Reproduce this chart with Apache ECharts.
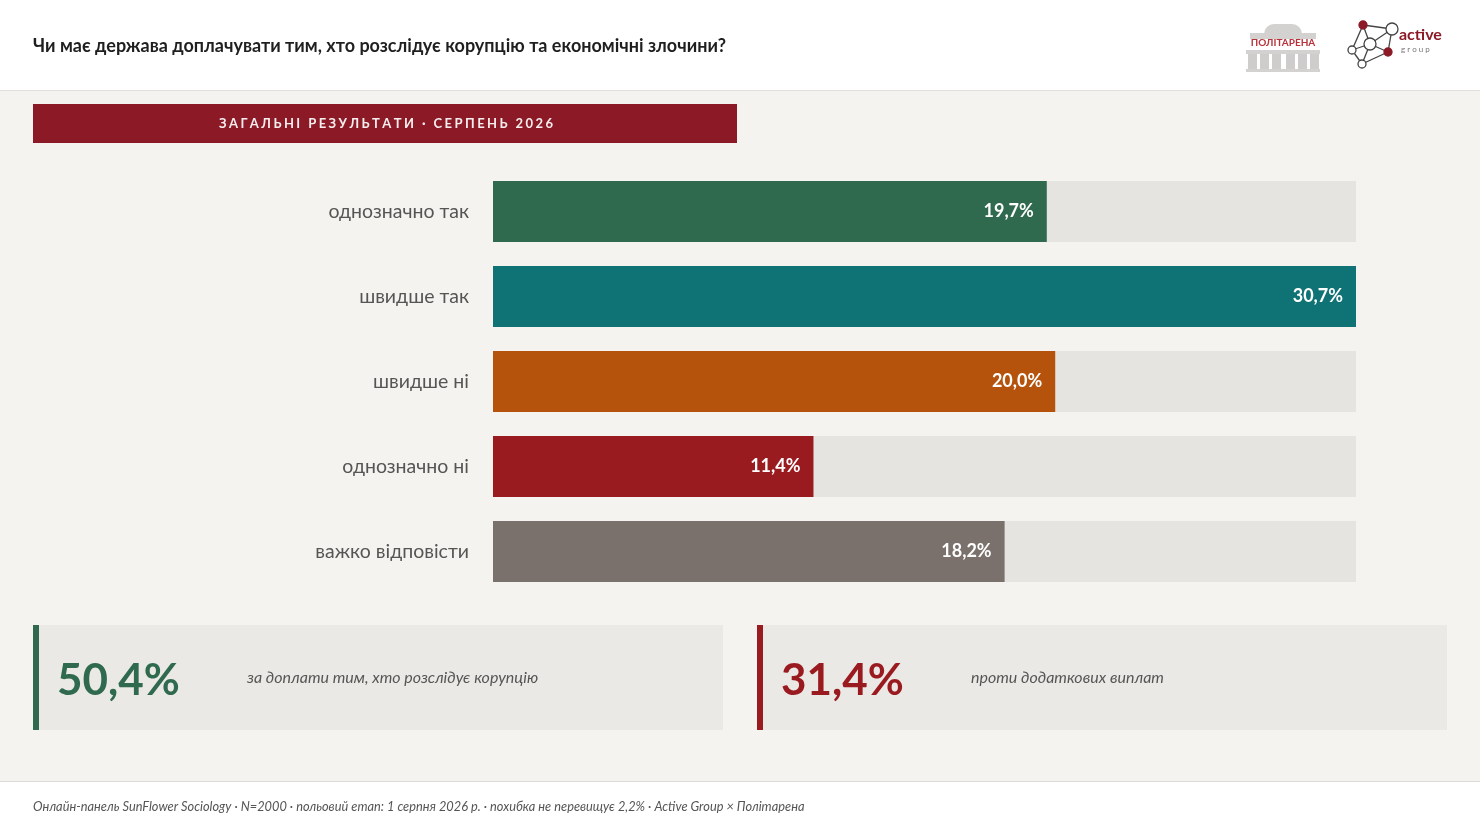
<!DOCTYPE html>
<html>
<head>
<meta charset="UTF-8">
<title>Доплати тим, хто розслідує корупцію</title>
<script src="https://cdn.jsdelivr.net/npm/echarts@6/dist/echarts.min.js"></script>
<style>
  html, body { margin: 0; padding: 0; background: #ffffff; }
  #main { width: 1480px; height: 833px; }
</style>
</head>
<body>
<div id="main"></div>
<script type="text/javascript">
// дані з графіка
var categories = ['однозначно так', 'швидше так', 'швидше ні', 'однозначно ні', 'важко відповісти'];
var values = [19.7, 30.7, 20.0, 11.4, 18.2];
var barColors = ['#2f6a4e', '#0f7274', '#b5530c', '#9a1b1f', '#7a716c'];
var summaryValues = ['50,4%', '31,4%'];
var summaryLabels = ['за доплати тим, хто розслідує корупцію', 'проти додаткових виплат'];
var summaryColors = ['#2f6a4e', '#9a1b1f'];

var title = 'Чи має держава доплачувати тим, хто розслідує корупцію та економічні злочини?';
var banner = 'ЗАГАЛЬНІ РЕЗУЛЬТАТИ · СЕРПЕНЬ 2026';
var footer = 'Онлайн-панель SunFlower Sociology · N=2000 · польовий етап: 1 серпня 2026 р. · похибка не перевищує 2,2% · Active Group × Політарена';

var FONT = 'Lato, "Noto Sans", sans-serif';

function fmt(v) {
  return v.toFixed(1).replace('.', ',') + '%';
}

// розрідження літер для банера
function spaced(s) {
  return s.split('').join('\u2009\u200A');
}

var myChart = echarts.init(document.getElementById('main'));

// декоративні блоки: шапка, банер, картки, підвал
var graphics = [];
// фон основної частини
graphics.push({ type: 'rect', shape: { x: 0, y: 90, width: 1480, height: 691 }, style: { fill: '#f5f3ef' }, z: -10 });
graphics.push({ type: 'rect', shape: { x: 0, y: 90, width: 1480, height: 1 }, style: { fill: '#e3e0dc' }, z: -9 });
graphics.push({ type: 'rect', shape: { x: 0, y: 781, width: 1480, height: 1 }, style: { fill: '#dedbd7' }, z: -9 });
// заголовок
graphics.push({ type: 'text', x: 33, y: 46, style: { text: title, font: 'bold 18px ' + FONT, fill: '#1f1f1f', verticalAlign: 'middle' } });
// банер
graphics.push({ type: 'rect', shape: { x: 33, y: 104, width: 704, height: 39 }, style: { fill: '#8b1a26' } });
graphics.push({ type: 'text', x: 386, y: 124, style: { text: spaced(banner), font: 'bold 13px ' + FONT, fill: '#f6eeee', align: 'center', verticalAlign: 'middle' } });

// картки підсумків
var cardX = [33, 757];
for (var i = 0; i < 2; i++) {
  graphics.push({ type: 'rect', shape: { x: cardX[i], y: 625, width: 690, height: 105 }, style: { fill: '#ebe9e5' } });
  graphics.push({ type: 'rect', shape: { x: cardX[i], y: 625, width: 6, height: 105 }, style: { fill: summaryColors[i] } });
  graphics.push({ type: 'text', x: cardX[i] + 24, y: 681, style: { text: summaryValues[i], font: 'bold 44px ' + FONT, fill: summaryColors[i], verticalAlign: 'middle' } });
  graphics.push({ type: 'text', x: cardX[i] + 214, y: 678, style: { text: summaryLabels[i], font: 'italic 16px ' + FONT, fill: '#555555', verticalAlign: 'middle' } });
}

// підвал
graphics.push({ type: 'text', x: 33, y: 807, style: { text: footer, font: 'italic 12.8px ' + FONT, fill: '#555555', verticalAlign: 'middle' } });

// логотип Політарена
var px = 1246, py = 22;
graphics.push({ type: 'rect', shape: { x: px + 18, y: py + 2, width: 38, height: 10, r: [10, 10, 0, 0] }, style: { fill: '#d4d2d0' } });
graphics.push({ type: 'rect', shape: { x: px + 4, y: py + 11, width: 66, height: 6 }, style: { fill: '#d4d2d0' } });
graphics.push({ type: 'rect', shape: { x: px, y: py + 28, width: 74, height: 4 }, style: { fill: '#d4d2d0' } });
var cols = [0, 12, 24, 38, 50, 62];
for (var c = 0; c < cols.length; c++) {
  graphics.push({ type: 'rect', shape: { x: px + cols[c] + 2, y: py + 32, width: 9, height: 16 }, style: { fill: '#cfcdcb' } });
}
graphics.push({ type: 'rect', shape: { x: px, y: py + 47, width: 74, height: 3 }, style: { fill: '#d4d2d0' } });
graphics.push({ type: 'text', x: px + 37, y: py + 21, style: { text: 'ПОЛІТАРЕНА', font: 'bold 10px ' + FONT, fill: '#b8323a', align: 'center', verticalAlign: 'middle' } });

// логотип active group
var nodes = [[1363, 25, 4, '#8b1a26'], [1392, 29, 6, '#fff'], [1370, 44, 6, '#fff'], [1352, 50, 4, '#fff'], [1388, 52, 4, '#8b1a26'], [1362, 64, 4, '#fff']];
var links = [[0, 1], [0, 2], [1, 2], [2, 3], [3, 0], [1, 4], [2, 4], [3, 5], [4, 5], [2, 5]];
for (var l = 0; l < links.length; l++) {
  var a = nodes[links[l][0]], b = nodes[links[l][1]];
  graphics.push({ type: 'line', shape: { x1: a[0], y1: a[1], x2: b[0], y2: b[1] }, style: { stroke: '#444', lineWidth: 1.3 } });
}
for (var n = 0; n < nodes.length; n++) {
  graphics.push({ type: 'circle', shape: { cx: nodes[n][0], cy: nodes[n][1], r: nodes[n][2] }, style: { fill: nodes[n][3], stroke: nodes[n][3] === '#fff' ? '#444' : '#8b1a26', lineWidth: 1.3 } });
}
graphics.push({ type: 'text', x: 1399, y: 35, style: { text: 'active', font: 'bold 16px ' + FONT, fill: '#8b1a26', verticalAlign: 'middle' } });
graphics.push({ type: 'text', x: 1401, y: 49, style: { text: 'g r o u p', font: '8px ' + FONT, fill: '#777', verticalAlign: 'middle' } });

var option = {
  backgroundColor: '#ffffff',
  animation: false,
  graphic: graphics,
  grid: { left: 493, right: 124, top: 169, height: 425, containLabel: false },
  xAxis: {
    type: 'value',
    min: 0,
    max: 30.7,
    show: false
  },
  yAxis: {
    type: 'category',
    inverse: true,
    data: categories,
    axisLine: { show: false },
    axisTick: { show: false },
    splitLine: { show: false },
    axisLabel: { margin: 24, color: '#555555', fontSize: 19.5, fontFamily: FONT, padding: [3, 0, 0, 0] }
  },
  series: [
    {
      type: 'bar',
      barWidth: 61,
      data: values.map(function (v, i) {
        return { value: v, itemStyle: { color: barColors[i] } };
      }),
      showBackground: true,
      backgroundStyle: { color: '#e6e4e1' },
      label: {
        show: true,
        position: 'insideRight',
        distance: 13,
        color: '#ffffff',
        fontSize: 18,
        fontWeight: 'bold',
        fontFamily: FONT,
        formatter: function (p) { return fmt(p.value); }
      }
    }
  ]
};

myChart.setOption(option);
</script>
</body>
</html>
